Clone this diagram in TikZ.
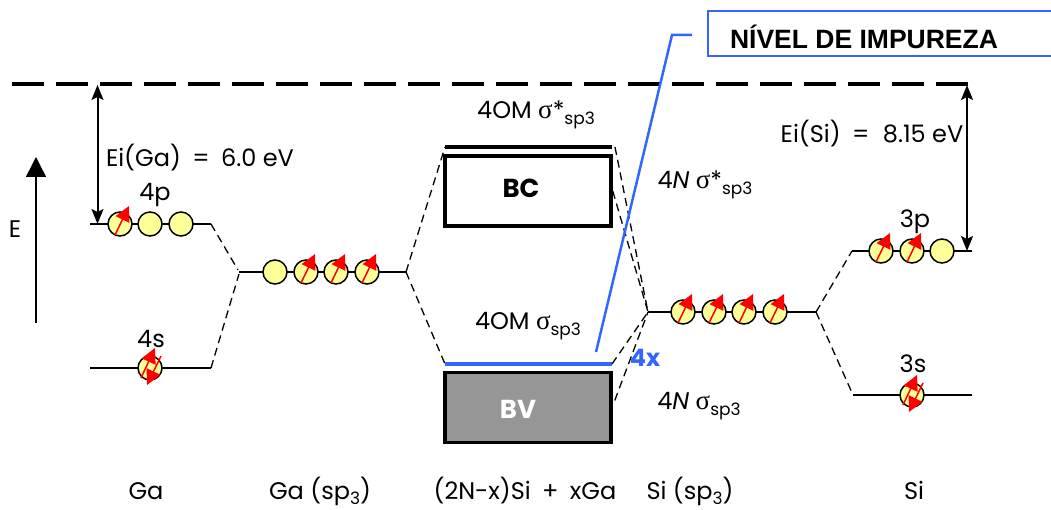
\documentclass[tikz,border=0pt]{standalone}
\usepackage{fontspec}
\setmainfont{Poppins}
\newfontfamily\labelfont{Liberation Sans}
\newfontfamily\sigfont{Liberation Serif}
\usetikzlibrary{arrows.meta}
\definecolor{orbfill}{RGB}{255,255,153}
\definecolor{implevel}{RGB}{51,102,255}
\newcommand{\sig}{{\sigfont\fontsize{27}{27}\selectfont σ}}
\newcommand{\lowsub}[1]{\raisebox{-0.4ex}{\fontsize{17}{17}\selectfont #1}}
\newcommand{\wide}{\hspace{5pt}}
\newcommand{\spinup}[1]{\draw[spin] ([shift={(-5,11)}]#1.center) -- ([shift={(9,-18)}]#1.center);}
\newcommand{\spinpair}[1]{
  \draw[spin] ([shift={(-9,10)}]#1.center) -- ([shift={(5,-20)}]#1.center);
  \draw[spin] ([shift={(11,-12)}]#1.center) -- ([shift={(-3,17)}]#1.center);}

\begin{document}
\begin{tikzpicture}[x=1pt,y=-1pt,
    level/.style={line width=1.5pt},
    link/.style={line width=1.3pt,dash pattern=on 8pt off 5pt},
    orb/.style={circle,draw,line width=1.5pt,fill=orbfill,minimum size=24pt,inner sep=0pt},
    spin/.style={red,line width=1.5pt,-{Triangle[length=15pt,width=15pt]}},
    gap/.style={line width=2pt,{Stealth[length=15pt,width=12pt,inset=3pt]}-{Stealth[length=15pt,width=12pt,inset=3pt]}},
    txt/.style={font=\fontsize{24}{26}\selectfont,inner sep=0pt},
    coltxt/.style={font=\fontsize{24}{26}\selectfont,inner sep=0pt,anchor=base},
    band/.style={draw,line width=3.5pt,minimum width=166pt,minimum height=70pt,inner sep=0pt}]
  \useasboundingbox (0,0) rectangle (1051,510);

  % vacuum level
  \coordinate (VL) at (12,84);
  \coordinate (VR) at (968,84);
  \draw[line width=4pt,dash pattern=on 32pt off 12pt] (VL) -- (VR);

  % levels
  \coordinate (A1) at (90,224);   \coordinate (A2) at (211,224);
  \coordinate (B1) at (90,368);   \coordinate (B2) at (211,368);
  \coordinate (C1) at (239,272);  \coordinate (C2) at (406,272);
  \coordinate (D1) at (648,312);  \coordinate (D2) at (816,312);
  \coordinate (F1) at (852,251);  \coordinate (F2) at (972,251);
  \coordinate (G1) at (853,395);  \coordinate (G2) at (972,395);
  \foreach \p/\q in {A1/A2,B1/B2,C1/C2,D1/D2,F1/F2,G1/G2}
    \draw[level] (\p) -- (\q);

  % orbitals
  \foreach \n/\x in {a1/120,a2/150,a3/181}
    \node[orb] (\n) at (\x,224) {};
  \node[orb] (b1) at (150,368) {};
  \foreach \n/\x in {c1/275,c2/306,c3/336,c4/367}
    \node[orb] (\n) at (\x,272) {};
  \foreach \n/\x in {d1/683,d2/714,d3/744,d4/775}
    \node[orb] (\n) at (\x,312) {};
  \foreach \n/\x in {f1/881,f2/912,f3/942}
    \node[orb] (\n) at (\x,251) {};
  \node[orb] (g1) at (912,395) {};

  % electrons
  \foreach \n in {a1,c2,c3,c4,d1,d2,d3,d4,f1,f2}
    {\spinup{\n}}
  \spinpair{b1}
  \spinpair{g1}

  % bands
  \node[band] (BC) at (528,191) {};
  \node[band,fill=black!41] (BV) at (528,407.5) {};
  \node[inner sep=0pt,font=\fontsize{26}{28}\selectfont\bfseries] (tBC) at (521,188) {BC};
  \node[inner sep=0pt,text=white,font=\fontsize{26}{28}\selectfont\bfseries] (tBV) at (518,409) {BV};
  \coordinate (T1) at (445,147);  \coordinate (T2) at (612,147);
  \coordinate (L1) at (445,364);  \coordinate (L2) at (612,364);
  \draw[line width=3.5pt] (T1) -- (T2);
  \draw[implevel,line width=3.5pt] (L1) -- (L2);

  % correlations
  \draw[link] (A2) -- (238,270);
  \draw[link] (B2) -- (239,274);
  \draw[link] (C2) -- (T1);
  \draw[link] (C2) -- (L1);
  \draw[link] (T2) ++(3,0) -- (D1);
  \draw[link] (BC.east) -- (D1);
  \draw[link] (L2) -- (D1);
  \draw[link] (BV.east) ++(2,-7) -- (D1);
  \draw[link] (D2) -- (F1);
  \draw[link] (D2) -- (G1);

  % energy arrows
  \coordinate (EA) at (36,323);
  \coordinate (EB) at (36,157);
  \draw[line width=1.5pt,-{Triangle[length=20pt,width=20pt]}] (EA) -- (EB);
  \draw[gap] (97.5,85) -- (97.5,224);
  \draw[gap] (967,85) -- (967,251);

  % impurity label
  \coordinate (I1) at (596,352);
  \coordinate (I2) at (672,35);
  \coordinate (I3) at (692,35);
  \draw[implevel,line width=2.5pt] (I1) -- (I2) -- (I3);
  \coordinate (Q1) at (1051,11);
  \coordinate (Q2) at (708,11);
  \coordinate (Q3) at (708,56);
  \coordinate (Q4) at (1051,56);
  \draw[implevel,line width=2.5pt] (Q1) -- (Q2) -- (Q3) -- (Q4);
  \node[inner sep=0pt,font=\labelfont\fontsize{26.5}{28}\selectfont\bfseries] (imp) at (864,37) {NÍVEL DE IMPUREZA};

  % labels
  \node[txt] (lE) at (15,229) {E};
  \node[txt] (l4p) at (155,195) {4p};
  \node[txt] (l4s) at (151,339) {4s};
  \node[txt] (l3p) at (915,222) {3p};
  \node[txt] (l3s) at (913,364) {3s};
  \node[txt] (lGa) at (200,158) {Ei(Ga)\wide{} =\wide{} 6.0 eV};
  \node[txt] (lSi) at (872,134) {Ei(Si)\wide{} =\wide{} \hspace{2pt}8.15 eV};
  \node[txt] (om1) at (536,115) {4OM \sig*\lowsub{sp3}};
  \node[txt] (nn1) at (705,185) {4\textit{N} \sig*\lowsub{sp3}};
  \node[txt] (om2) at (528,326) {4OM \sig\lowsub{sp3}};
  \node[txt] (nn2) at (699,406) {4\textit{N} \sig\lowsub{sp3}};
  \node[inner sep=0pt,text=implevel,font=\fontsize{24}{26}\selectfont\bfseries] (fx) at (645,358) {4x};
  \node[coltxt] (n1) at (146,499) {Ga};
  \node[coltxt] (n2) at (320,499) {Ga (sp\lowsub{3})};
  \node[coltxt] (n3) at (525,499) {(2N-x)Si\wide{} +\wide{} xGa};
  \node[coltxt] (n4) at (690,499) {Si (sp\lowsub{3})};
  \node[coltxt] (n5) at (914,499) {Si};
\end{tikzpicture}
\end{document}
